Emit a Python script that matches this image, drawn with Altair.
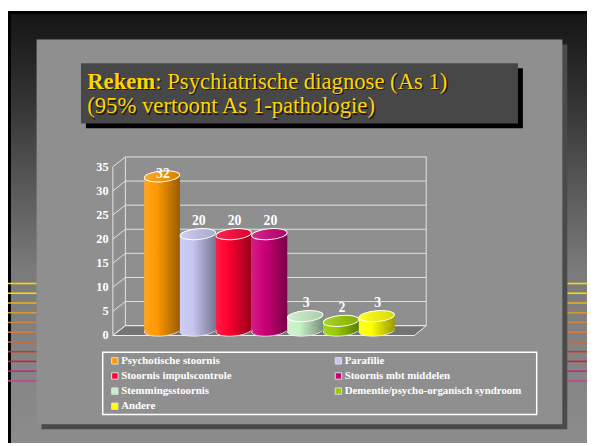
import altair as alt
import pandas as pd

# ---------------- data ----------------
categories = [
    "Psychotische stoornis",
    "Parafilie",
    "Stoornis impulscontrole",
    "Stoornis mbt middelen",
    "Stemmingsstoornis",
    "Dementie/psycho-organisch syndroom",
    "Andere",
]
values = [32, 20, 20, 20, 3, 2, 3]
colors = ["#ff9900", "#c6c6f2", "#ff0030", "#cc0077", "#c8f0c8", "#99cc00", "#ffff00"]
y_ticks = [0, 5, 10, 15, 20, 25, 30, 35]
title_bold = "Rekem"
title_rest = ": Psychiatrische diagnose (As 1)"
title_line2 = "(95% vertoont As 1-pathologie)"
deco_colors = ["#ffd800", "#ffd800", "#e8b020", "#d89a30", "#c88a40", "#d87840",
               "#d86830", "#c83818", "#d81838", "#c02878", "#c04890"]

# ---------------- style / layout ----------------
W, H = 587, 438
FONT = "Liberation Serif"
Y0, Y35 = 329, 158          # front plane pixel rows for 0 and 35
FRONT_X, BACK_X, RIGHT_X = 106.3, 119, 424
DEPTH = -10
yscale = alt.Scale(domain=[0, 35], range=[Y0, Y35], nice=False, zero=False)
xscale = alt.Scale(domain=categories, range=[138, 392], paddingInner=0, paddingOuter=0)
ELLIPSE = "M-18,0A18,5.5 0 1 1 18,0A18,5.5 0 1 1 -18,0Z"
FLOOR = "M0,0L305.7,0L317.7,-10L12.7,-10Z"


def mix(hexc, other, t):
    a = [int(hexc[i:i + 2], 16) for i in (1, 3, 5)]
    b = [int(other[i:i + 2], 16) for i in (1, 3, 5)]
    c = [round(a[k] + (b[k] - a[k]) * t) for k in range(3)]
    return "#%02x%02x%02x" % tuple(c)


def hgrad(stops):
    return {"gradient": "linear", "x1": 0, "x2": 1, "y1": 0, "y2": 0,
            "stops": [{"offset": o, "color": c} for o, c in stops]}


def vgrad(stops):
    return {"gradient": "linear", "x1": 0, "x2": 0, "y1": 0, "y2": 1,
            "stops": [{"offset": o, "color": c} for o, c in stops]}


one = alt.Chart(pd.DataFrame({"a": [0]}))


def box(x0, y0, x1, y1, **kw):
    kw.setdefault("opacity", 1)
    return one.mark_rect(**kw).encode(
        x=alt.value(x0), x2=alt.value(x1), y=alt.value(y0), y2=alt.value(y1))


def label(x, y, txt, **kw):
    return one.mark_text(text=txt, align="left", baseline="alphabetic", font=FONT, **kw).encode(
        x=alt.value(x), y=alt.value(y))


layers = []

# slide background
layers.append(box(0, 0, W, 262, fill=vgrad([(0, "#141414"), (0.35, "#333333"),
                                           (0.73, "#5e5e5e"), (1, "#7a7a7a")])))
layers.append(box(0, 261, W, H, fill=vgrad([(0, "#7a7a7a"), (1, "#8c8c8c")])))
layers.append(box(0, 0, W, 3, fill="#000000"))
layers.append(box(0, 0, 3, H, fill="#000000"))

# decorative lines
deco_df = pd.DataFrame({"c": deco_colors, "i": list(range(len(deco_colors)))})
deco = alt.Chart(deco_df).transform_calculate(py="276.3 + datum.i * 9.87")
for xa, xb in [(0, 29), (567, 587)]:
    layers.append(deco.mark_rule(strokeWidth=1.6, opacity=1).encode(
        x=alt.value(xa), x2=alt.value(xb),
        y=alt.Y("py:Q", scale=None),
        color=alt.Color("c:N", scale=None)))

# panel
layers.append(box(34, 34, 567, 424, fill="#4a4a4a"))
layers.append(box(29, 29, 562, 419, fill="#8f8f8f"))

# title box
layers.append(box(79, 58, 522, 119, fill="#000000"))
layers.append(box(74, 53, 517, 114, fill="#474747"))
TCOL = "#ffd400"
for dx, col in [(1.3, "#151515"), (0, TCOL)]:
    layers.append(label(80.3 + dx, 78.7 + dx, title_bold, fontSize=23, fontWeight="bold", color=col))
    layers.append(label(149.3 + dx, 78.7 + dx, title_rest, fontSize=23, color=col))
    layers.append(label(80.3 + dx, 103.7 + dx, title_line2, fontSize=23, color=col))

# 3D frame: floor, back wall grid, left wall diagonals
layers.append(one.mark_point(shape=FLOOR, size=4, filled=True, fill="#747474", stroke="#f0f0f0",
                             strokeWidth=1, opacity=1).encode(
    x=alt.value(FRONT_X), y=alt.Y(datum=0, scale=yscale, axis=None)))

ticks = alt.Chart(pd.DataFrame({"t": y_ticks}))
GRID = "#e4e4e4"
layers.append(ticks.mark_rule(color=GRID, strokeWidth=1, yOffset=DEPTH, opacity=1).encode(
    x=alt.value(BACK_X), x2=alt.value(RIGHT_X),
    y=alt.Y("t:Q", scale=yscale, axis=None)))
layers.append(ticks.mark_rule(color=GRID, strokeWidth=1, y2Offset=DEPTH, opacity=1).encode(
    x=alt.value(FRONT_X), x2=alt.value(BACK_X),
    y=alt.Y("t:Q", scale=yscale, axis=None), y2=alt.Y2("t:Q")))
for xv, off in [(BACK_X, DEPTH), (RIGHT_X, DEPTH), (FRONT_X, 0)]:
    layers.append(one.mark_rule(color=GRID, strokeWidth=1, yOffset=off, y2Offset=off, opacity=1).encode(
        x=alt.value(xv), y=alt.Y(datum=0, scale=yscale, axis=None), y2=alt.Y2(datum=35)))
layers.append(ticks.mark_text(align="right", baseline="middle", font=FONT, fontWeight="bold",
                              fontSize=12.5, color="#ffffff").encode(
    x=alt.value(102), y=alt.Y("t:Q", scale=yscale, axis=None), text="t:Q"))

# cylinders
bar_df = pd.DataFrame({"cat": categories, "v": values})
bars = alt.Chart(bar_df)
for cat, col in zip(categories, colors):
    sub = bars.transform_filter(alt.datum.cat == cat)
    body = hgrad([(0, mix(col, "#ffffff", 0.12)), (0.35, col), (1, mix(col, "#000000", 0.4))])
    top = hgrad([(0, mix(col, "#ffffff", 0.15)), (1, mix(col, "#000000", 0.15))])
    xenc = alt.X("cat:N", scale=xscale, axis=None)
    layers.append(sub.mark_point(shape=ELLIPSE, size=4, filled=True, fill=body, stroke="#eeeeee",
                                 strokeWidth=0.8, opacity=1, angle=355, yOffset=-5).encode(
        x=xenc, y=alt.Y(datum=0, scale=yscale, axis=None)))
    layers.append(sub.mark_bar(fill=body, opacity=1, strokeWidth=0, yOffset=-5, y2Offset=-5).encode(
        x=xenc, y=alt.Y("v:Q", scale=yscale, axis=None), y2=alt.Y2(datum=0)))
    layers.append(sub.mark_point(shape=ELLIPSE, size=4, filled=True, fill=top, stroke="#ffffff",
                                 strokeWidth=1, opacity=1, angle=355, yOffset=-5).encode(
        x=xenc, y=alt.Y("v:Q", scale=yscale, axis=None)))

layers.append(bars.transform_calculate(lab="min(datum.v + 2.66, 32.5)").mark_text(
    font=FONT, fontWeight="bold", fontSize=14, color="#ffffff", baseline="middle",
    dx=1, yOffset=-5).encode(
    x=alt.X("cat:N", scale=xscale, axis=None),
    y=alt.Y("lab:Q", scale=yscale, axis=None), text="v:Q"))

# legend
layers.append(box(96, 346, 536, 409, fill="#8f8f8f", fillOpacity=0, stroke="#ffffff", strokeWidth=1.5))
leg_df = pd.DataFrame({"cat": categories, "c": colors, "i": list(range(len(categories)))})
leg = alt.Chart(leg_df).transform_calculate(
    col="datum.i % 2", row="floor(datum.i / 2)").transform_calculate(
    sx="108.3 + datum.col * 226.7", tx="114.7 + datum.col * 226.6",
    ly="354.7 + datum.row * 15.33")
layers.append(leg.mark_square(size=42, opacity=1, stroke="#dddddd", strokeWidth=1).encode(
    x=alt.X("sx:Q", scale=None), y=alt.Y("ly:Q", scale=None),
    fill=alt.Color("c:N", scale=None)))
layers.append(leg.mark_text(align="left", baseline="middle", font=FONT, fontWeight="bold",
                            fontSize=11, color="#ffffff").encode(
    x=alt.X("tx:Q", scale=None), y=alt.Y("ly:Q", scale=None), text="cat:N"))

chart = alt.layer(*layers).properties(
    width=W, height=H, padding=0, autosize=alt.AutoSizeParams(type="none"),
    background="#ffffff").configure_view(stroke=None)

chart.save("out.html", embed_options={"renderer": "svg", "actions": False})
